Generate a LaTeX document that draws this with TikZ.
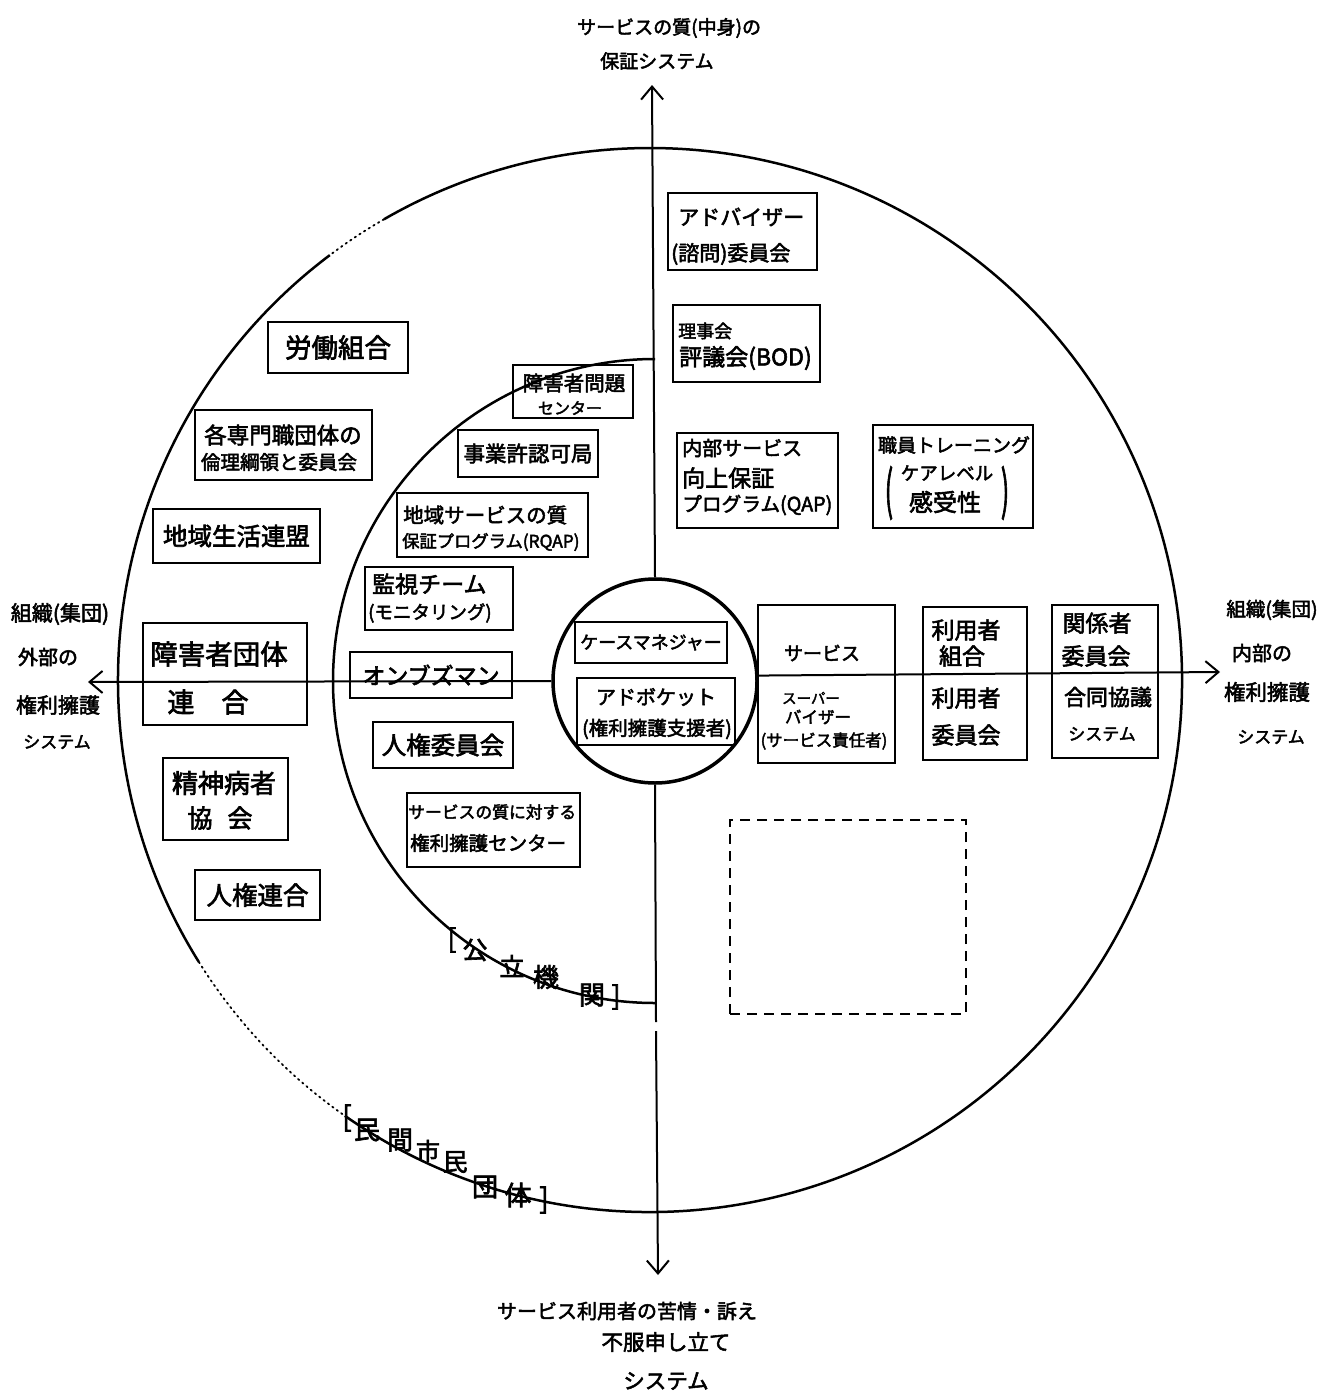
\documentclass[tikz,border=0pt]{standalone}
\usepackage{fontspec}
\usepackage{graphicx}
\setmainfont{Noto Sans CJK JP}[FakeBold=2.5]
\usetikzlibrary{arrows.meta}
\newcommand\fsz[1]{\fontsize{#1}{#1}\selectfont}
\begin{document}
\begin{tikzpicture}[x=1pt,y=-1pt,
  bx/.style={draw,line width=2.8pt,rectangle,inner sep=0pt},
  tx/.style={inner sep=0pt},
  ln/.style={line width=2pt},
  arr/.style={-{Straight Barb[length=13pt,width=22pt]}},
  circ/.style={line width=2.5pt},
  dot/.style={line width=1.8pt,dash pattern=on 1.5pt off 4pt,line cap=round},
]
\fill[white] (0,0) rectangle (1317,1395);
\useasboundingbox (0,0) rectangle (1317,1395);

% centres
\coordinate (bc) at (650,680);
\coordinate (ac) at (655,681);

% big circle (with faint parts)
\draw[circ] (bc) ++(-127:532) arc[start angle=-127,end angle=-212,radius=532];
\draw[dot]  (bc) ++(-212:532) arc[start angle=-212,end angle=-235,radius=532];
\draw[circ] (bc) ++(-235:532) arc[start angle=-235,end angle=-480,radius=532];
\draw[dot]  (bc) ++(-480:532) arc[start angle=-480,end angle=-487,radius=532];

% inner half circle (public bodies)
\draw[circ] (ac) ++(-90:322) arc[start angle=-90,end angle=-270,radius=322];

% core circle
\node[circle,draw,line width=3.5pt,minimum size=204pt,inner sep=0pt] (core) at (ac) {};

% axes
\coordinate (ttip) at (652,85);
\coordinate (btip) at (658,1275);
\coordinate (ltip) at (88,682);
\coordinate (rtip) at (1220,672);
\coordinate (g1) at (656,1022);
\coordinate (g2) at (656,1031);
\draw[ln,arr] (core.north) -- (ttip);
\draw[ln] (core.south) -- (g1);
\draw[ln,arr] (g2) -- (btip);
\draw[ln,arr] (core.west) -- (ltip);
\draw[ln,arr] (core.3) -- (rtip);

% ---- upper right quadrant ----
\node[bx,minimum width=149pt,minimum height=77pt] (adv) at (742.5,231.5) {};
\node[tx,font=\fsz{21},anchor=west] (adv1) at (678,217) {アドバイザー};
\node[tx,font=\fsz{21},anchor=west] (adv2) at (671,254) {(諮問)委員会};

\node[bx,minimum width=147pt,minimum height=77pt] (bod) at (746.5,343.5) {};
\node[tx,font=\fsz{18},anchor=west] (bod1) at (678,331) {理事会};
\node[tx,font=\fsz{23},anchor=west] (bod2) at (679,358) {評議会(BOD)};

\node[bx,minimum width=161pt,minimum height=95pt] (qap) at (757.5,480.5) {};
\node[tx,font=\fsz{20},anchor=west] (qap1) at (682,448) {内部サービス};
\node[tx,font=\fsz{23},anchor=west] (qap2) at (682,478) {向上保証};
\node[tx,font=\fsz{19.7},anchor=west] (qap3) at (682,505) {プログラム(QAP)};

\node[bx,minimum width=160pt,minimum height=103pt] (trn) at (953,476.5) {};
\node[tx,font=\fsz{19}] (trn1) at (954,445) {職員トレーニング};
\node[tx,font=\fsz{18.5}] (trn2) at (947,473) {ケアレベル};
\node[tx,font=\fsz{24}] (trn3) at (945,502) {感受性};
\node[tx,font=\fsz{24}] (trnl) at (889,493) {\scalebox{1}[2.2]{(}};
\node[tx,font=\fsz{24}] (trnr) at (1005,493) {\scalebox{1}[2.2]{)}};

% ---- upper left quadrant, inner ring ----
\node[bx,minimum width=120pt,minimum height=53pt] (ctr) at (573,391.5) {};
\node[tx,font=\fsz{20.5}] (ctr1) at (574,383) {障害者問題};
\node[tx,font=\fsz{16}] (ctr2) at (570,408) {センター};

\node[bx,minimum width=140pt,minimum height=47pt,font=\fsz{21.5}] (lic) at (528,453.5) {事業許認可局};

\node[bx,minimum width=191pt,minimum height=64pt] (rqap) at (492.5,525) {};
\node[tx,font=\fsz{20.5},anchor=west] (rqap1) at (403,515) {地域サービスの質};
\node[tx,font=\fsz{17.3},anchor=west] (rqap2) at (402,542) {保証プログラム(RQAP)};

\node[bx,minimum width=148pt,minimum height=63pt] (mon) at (439,598.5) {};
\node[tx,font=\fsz{23},anchor=west] (mon1) at (372,584) {監視チーム};
\node[tx,font=\fsz{18.5},anchor=west] (mon2) at (368,613) {(モニタリング)};

\node[bx,minimum width=162pt,minimum height=46pt,font=\fsz{23}] (omb) at (431,675) {オンブズマン};

% ---- lower left quadrant, inner ring ----
\node[bx,minimum width=140pt,minimum height=46pt,font=\fsz{24.5}] (hrc) at (443,745) {人権委員会};

\node[bx,minimum width=173pt,minimum height=74pt] (adc) at (493.5,830) {};
\node[tx,font=\fsz{16.8},anchor=west] (adc1) at (408,812) {サービスの質に対する};
\node[tx,font=\fsz{19.5},anchor=west] (adc2) at (410,843) {権利擁護センター};

% ---- outer ring, left ----
\node[bx,minimum width=140pt,minimum height=51pt,font=\fsz{26.5}] (lab) at (338,347.5) {労働組合};

\node[bx,minimum width=177pt,minimum height=70pt] (eth) at (283.5,445) {};
\node[tx,font=\fsz{22.5}] (eth1) at (283,435) {各専門職団体の};
\node[tx,font=\fsz{19.5}] (eth2) at (279,462) {倫理綱領と委員会};

\node[bx,minimum width=167pt,minimum height=54pt,font=\fsz{24.5}] (reg) at (236.5,536) {地域生活連盟};

\node[bx,minimum width=164pt,minimum height=102pt] (dis) at (225,674) {};
\node[tx,font=\fsz{27.5}] (dis1) at (219,654) {障害者団体};
\node[tx,font=\fsz{27}] (dis2) at (208,702) {連　合};

\node[bx,minimum width=125pt,minimum height=82pt] (psy) at (225.5,799) {};
\node[tx,font=\fsz{26}] (psy1) at (224,783) {精神病者};
\node[tx,font=\fsz{25}] (psy2) at (220,818) {協\hspace{0.6em}会};

\node[bx,minimum width=125pt,minimum height=50pt,font=\fsz{25.5}] (hru) at (257.5,895) {人権連合};

% ---- core ----
\node[bx,minimum width=152pt,minimum height=41pt,font=\fsz{18}] (cm) at (651,642.5) {ケースマネジャー};
\node[bx,minimum width=158pt,minimum height=67pt] (advo) at (656,711.5) {};
\node[tx,font=\fsz{20}] (advo1) at (656,697) {アドボケット};
\node[tx,font=\fsz{19.5}] (advo2) at (657,729) {(権利擁護支援者)};

% ---- right, on the horizontal axis ----
\node[bx,minimum width=137pt,minimum height=158pt] (sv) at (826.5,684) {};
\node[tx,font=\fsz{19}] (sv1) at (822,653) {サービス};
\node[tx,font=\fsz{14.5}] (sv2) at (811,698) {スーパー};
\node[tx,font=\fsz{16.5}] (sv3) at (818,717) {バイザー};
\node[tx,font=\fsz{16.5}] (sv4) at (824,741) {(サービス責任者)};

\node[bx,minimum width=104pt,minimum height=153pt] (usr) at (975,683.5) {};
\node[tx,font=\fsz{23}] (usr1) at (966,630) {利用者};
\node[tx,font=\fsz{23}] (usr2) at (962,656) {組合};
\node[tx,font=\fsz{23}] (usr3) at (966,698) {利用者};
\node[tx,font=\fsz{23}] (usr4) at (966,735) {委員会};

\node[bx,minimum width=106pt,minimum height=153pt] (rel) at (1105,681.5) {};
\node[tx,font=\fsz{23}] (rel1) at (1097,623) {関係者};
\node[tx,font=\fsz{23}] (rel2) at (1096,656) {委員会};
\node[tx,font=\fsz{22}] (rel3) at (1108,697) {合同協議};
\node[tx,font=\fsz{17}] (rel4) at (1102,734) {システム};

% ---- empty dashed box ----
\node[draw,line width=2.2pt,dash pattern=on 10pt off 7pt,minimum width=236pt,minimum height=194pt,inner sep=0pt] (dsh) at (848,917) {};

% ---- arc labels ----
\node[tx,font=\fsz{26}] (k1) at (452,940) {[};
\node[tx,font=\fsz{25}] (k2) at (475,950) {公};
\node[tx,font=\fsz{25}] (k3) at (512,966) {立};
\node[tx,font=\fsz{26}] (k4) at (546,977) {機};
\node[tx,font=\fsz{26}] (k5) at (592,995) {関};
\node[tx,font=\fsz{26}] (k6) at (616,997) {]};

\node[tx,font=\fsz{28}] (m1) at (347,1118) {[};
\node[tx,font=\fsz{26}] (m2) at (367,1130) {民};
\node[tx,font=\fsz{26}] (m3) at (400,1140) {間};
\node[tx,font=\fsz{24}] (m4) at (428,1151) {市};
\node[tx,font=\fsz{25}] (m5) at (455,1162) {民};
\node[tx,font=\fsz{26}] (m6) at (485,1187) {団};
\node[tx,font=\fsz{27}] (m7) at (518,1195) {体};
\node[tx,font=\fsz{28}] (m8) at (544,1200) {]};

% ---- axis labels ----
\node[tx,font=\fsz{19},anchor=west] (top1) at (577,28) {サービスの質(中身)の};
\node[tx,font=\fsz{19},anchor=west] (top2) at (600,61) {保証システム};

\node[tx,font=\fsz{20}] (bot1) at (627,1311) {サービス利用者の苦情・訴え};
\node[tx,font=\fsz{21.5}] (bot2) at (666,1342) {不服申し立て};
\node[tx,font=\fsz{21.5}] (bot3) at (666,1381) {システム};

\node[tx,font=\fsz{21}] (lft1) at (60,614) {組織(集団)};
\node[tx,font=\fsz{20}] (lft2) at (48,657) {外部の};
\node[tx,font=\fsz{21}] (lft3) at (58,705) {権利擁護};
\node[tx,font=\fsz{17}] (lft4) at (57,742) {システム};

\node[tx,font=\fsz{19.5}] (rgt1) at (1272,610) {組織(集団)};
\node[tx,font=\fsz{20}] (rgt2) at (1262,653) {内部の};
\node[tx,font=\fsz{21.5}] (rgt3) at (1267,692) {権利擁護};
\node[tx,font=\fsz{17}] (rgt4) at (1271,737) {システム};
\end{tikzpicture}
\end{document}
